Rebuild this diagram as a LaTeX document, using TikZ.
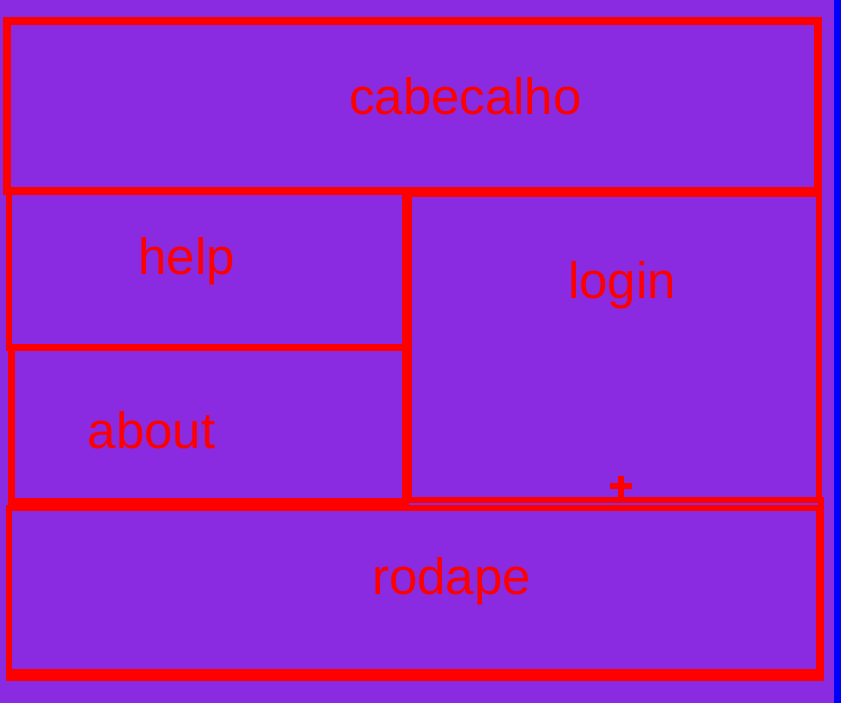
\documentclass[tikz,border=0pt]{standalone}
\usepackage{fontspec}
\setmainfont{Liberation Sans}
\usepackage{tikz}
\definecolor{painel}{HTML}{8A2BE2}
\tikzset{cell/.style={rectangle, draw=red, line width=6pt, inner sep=0pt, outer sep=0pt}}
\tikzset{lbl/.style={text=red, anchor=base, inner sep=0pt, font=\fontsize{51}{60}\selectfont}}

\begin{document}
\begin{tikzpicture}[x=1pt, y=-1pt]

    \fill[painel] (0,0) rectangle (841,703);
    \fill[blue] (834,0) rectangle (841,703);
    \useasboundingbox (0,0) rectangle (841,703);

    \node[cell, line width=8pt, minimum width=811pt, minimum height=170pt] (cab) at (412.5,106) {};
    \node[cell, minimum width=396pt, minimum height=156pt] (help) at (207,270) {};
    \node[cell, line width=7pt, minimum width=394pt, minimum height=153pt] (about) at (208,424.5) {};
    \node[cell, minimum width=410pt, minimum height=306pt] (login) at (614,347) {};
    \node[cell, minimum width=810pt, minimum height=164pt] (rodape) at (414,590) {};
    \draw[red, line width=6pt] (821,497) |- (6,678);

    \node[lbl] (cabtxt) at (465.5,115) {cabecalho};
    \node[lbl] (helptxt) at (186.5,275) {help};
    \node[lbl] (abouttxt) at (151.5,448) {about};
    \node[lbl] (logintxt) at (622,299) {login};
    \node[lbl] (rodapetxt) at (451.5,594) {rodape};

    \coordinate (grip) at (621,486);
    \draw[red, line width=6pt] ([xshift=-11pt]grip) -- ([xshift=11pt]grip);
    \draw[red, line width=6pt] ([yshift=10.5pt]grip) -- ([yshift=-10.5pt]grip);

\end{tikzpicture}
\end{document}
